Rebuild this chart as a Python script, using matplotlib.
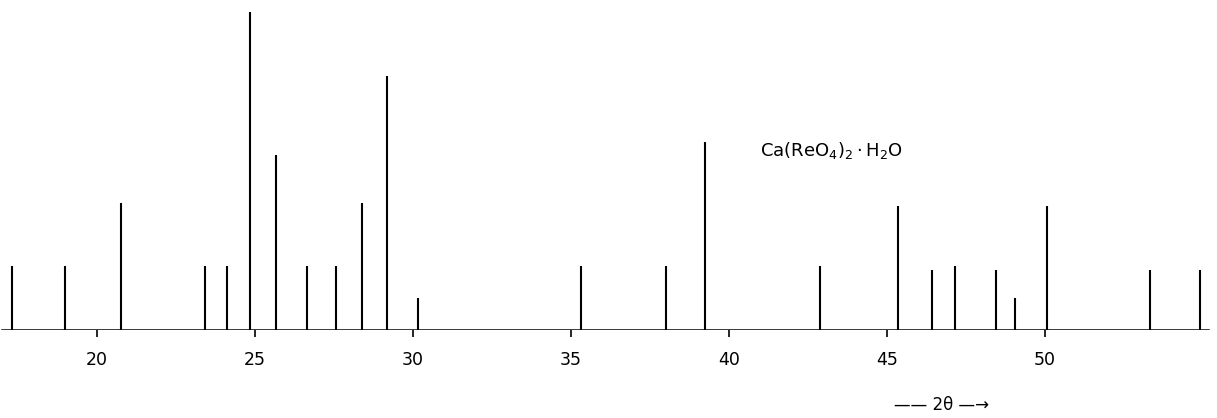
import matplotlib.pyplot as plt

# 2-theta positions and relative intensities of the reflections
two_theta = [17.3, 19.0, 20.76, 23.42, 24.11, 24.84, 25.66, 26.65, 27.56, 28.4,
             29.18, 30.16, 35.3, 38.0, 39.24, 42.88, 45.35, 46.43, 47.16, 48.45,
             49.05, 50.06, 53.32, 54.9]
intensity = [20, 20, 40, 20, 20, 100, 55, 20, 20, 40,
             80, 10, 20, 20, 59, 20, 39, 19, 20, 19,
             10, 39, 19, 19]
tick_pos = [20, 25, 30, 35, 40, 45, 50]

fig = plt.figure(figsize=(12.17, 4.18), dpi=100)
ax = fig.add_axes([0, 88 / 418, 1, 330 / 418])

ax.vlines(two_theta, 0, intensity, color='black', lw=1.5)
ax.plot([17.0, 55.15], [0, 0], color='black', lw=1.8)

ax.set_xlim(16.93, 55.44)
ax.set_ylim(0, 103.8)

for s in ax.spines.values():
    s.set_visible(False)
ax.set_yticks([])
ax.set_xticks(tick_pos)
ax.set_xticklabels([str(t) for t in tick_pos])
ax.tick_params(axis='x', direction='out', length=5, width=1.2, pad=10, labelsize=12.5)

ax.text(40.98, 56.6, r'$\mathrm{Ca(ReO_4)_2 \cdot H_2O}$', fontsize=13,
        ha='left', va='center')

fig.text(941 / 1217, 1 - 405 / 418, '\u2014\u2014 2\u03b8 \u2014\u2192', fontsize=12,
         ha='center', va='center')

fig.savefig('out.png', dpi=100)
